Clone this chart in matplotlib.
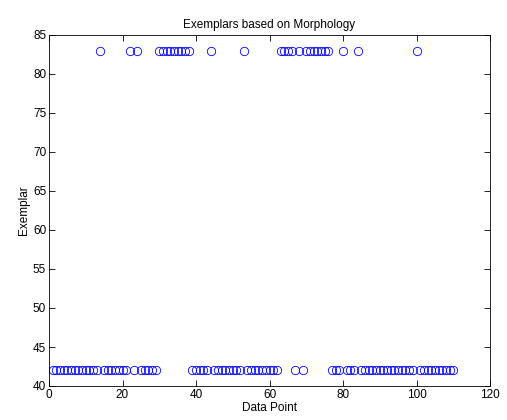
import numpy as np
import matplotlib
matplotlib.use("Agg")
import matplotlib.pyplot as plt

# data points whose exemplar is 83, all the others map to exemplar 42
n_points = 110
top_points = [14, 22, 24, 30, 31, 32, 33, 34, 35, 36, 37, 38, 44, 53,
              63, 64, 65, 66, 68, 70, 71, 72, 73, 74, 75, 76, 80, 84, 100]
exemplar_low = 42
exemplar_high = 83

x = np.arange(1, n_points + 1)
y = np.where(np.isin(x, top_points), exemplar_high, exemplar_low)

plt.rcParams['font.family'] = ['Liberation Sans', 'DejaVu Sans']

fig = plt.figure(figsize=(5.07, 4.2), dpi=100)
ax = fig.add_axes([49/507, 1 - 386/420, (490 - 49)/507, (386 - 35)/420])

ax.plot(x, y, 'o', mfc='none', mec='#0000ff', ms=6, mew=0.6)

ax.set_xlim(0, 120)
ax.set_ylim(40, 85)
ax.set_xticks(np.arange(0, 121, 20))
ax.set_yticks(np.arange(40, 86, 5))
ax.tick_params(direction='in', top=True, right=True, labelsize=8.5, length=4, width=0.6, pad=2)
for s in ax.spines.values():
    s.set_linewidth(0.6)

ax.set_xlabel('Data Point', fontsize=8.5, labelpad=1)
ax.set_ylabel('Exemplar', fontsize=8.5, labelpad=2)
ax.set_title('Exemplars based on Morphology', fontsize=8.5, pad=5)

fig.savefig('out.png', dpi=100)
